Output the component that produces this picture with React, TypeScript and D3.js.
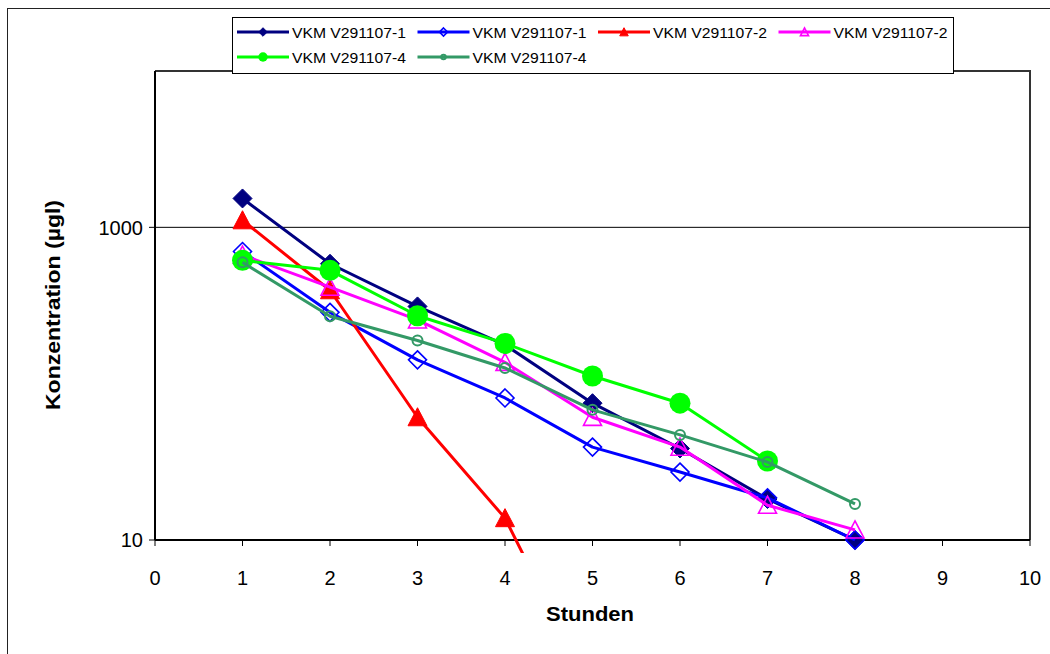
import React from "react";
import * as d3 from "d3";

const hours = [1, 2, 3, 4, 5, 6, 7, 8];
const seriesNames = [
  "VKM V291107-1",
  "VKM V291107-1",
  "VKM V291107-2",
  "VKM V291107-2",
  "VKM V291107-4",
  "VKM V291107-4",
];
const navyValues = [1530, 585, 312, 177, 75, 38.5, 18.3, 10];
const blueValues = [700, 286, 142, 81, 39.3, 27.2, 18.6, 10];
const redValues = [1110, 396, 61, 13.8, 1.05];
const magentaValues = [665, 414, 256, 137, 61, 39.3, 16.7, 11.6];
const greenValues = [615, 531, 272, 181, 112, 75, 32];
const seaGreenValues = [597, 270, 189, 126, 68, 47, 31.5, 17];
const xTicks = [0, 1, 2, 3, 4, 5, 6, 7, 8, 9, 10];
const yTicks = [10, 1000];

type MarkerKind = "diamondFill" | "diamondOpen" | "triFill" | "triOpen" | "circleFill" | "circleOpen";

const seriesDefs: { values: number[]; color: string; marker: MarkerKind }[] = [
  { values: navyValues, color: "#000080", marker: "diamondFill" },
  { values: blueValues, color: "#0000FF", marker: "diamondOpen" },
  { values: redValues, color: "#FF0000", marker: "triFill" },
  { values: magentaValues, color: "#FF00FF", marker: "triOpen" },
  { values: greenValues, color: "#00FF00", marker: "circleFill" },
  { values: seaGreenValues, color: "#339966", marker: "circleOpen" },
];

const W = 1050;
const H = 654;
const plot = { left: 155, right: 1030, top: 71, bottom: 540 };
const FONT = "'Liberation Sans', Arial, sans-serif";

function Marker({ kind, x, y, color, scale = 1 }: { kind: MarkerKind; x: number; y: number; color: string; scale?: number }) {
  const s = scale;
  switch (kind) {
    case "diamondFill": {
      const r = 9.5 * s;
      return <path d={`M${x},${y - r}L${x + r},${y}L${x},${y + r}L${x - r},${y}Z`} fill={color} stroke={color} strokeWidth={1} />;
    }
    case "diamondOpen": {
      const r = 9 * s;
      return <path d={`M${x},${y - r}L${x + r},${y}L${x},${y + r}L${x - r},${y}Z`} fill="none" stroke={color} strokeWidth={1.6} />;
    }
    case "triFill": {
      const w = 9.5 * s;
      return <path d={`M${x},${y - w}L${x + w},${y + w * 0.9}L${x - w},${y + w * 0.9}Z`} fill={color} stroke={color} strokeWidth={1} />;
    }
    case "triOpen": {
      const w = 9 * s;
      return <path d={`M${x},${y - w}L${x + w},${y + w * 0.9}L${x - w},${y + w * 0.9}Z`} fill="none" stroke={color} strokeWidth={1.6} />;
    }
    case "circleFill":
      return <circle cx={x} cy={y} r={10.5 * s} fill={color} />;
    case "circleOpen":
      return <circle cx={x} cy={y} r={5 * s} fill="none" stroke={color} strokeWidth={2} />;
  }
}

export default function App() {
  const xScale = d3.scaleLinear().domain([0, 10]).range([plot.left, plot.right]);
  const yScale = d3.scaleLog().domain([10, 10000]).range([plot.bottom, plot.top]);
  const line = d3
    .line<[number, number]>()
    .x((d) => xScale(d[0]))
    .y((d) => yScale(d[1]));

  const legendCols = [237, 417.5, 598, 778.5];
  const legendRows = [32, 57];

  return (
    <svg width={W} height={H} style={{ position: "absolute", left: 0, top: 0, background: "#fff" }} fontFamily={FONT}>
      <defs>
        <clipPath id="plotClip">
          <rect x={plot.left} y={plot.top} width={plot.right - plot.left} height={553 - plot.top} />
        </clipPath>
      </defs>
      <rect x={0} y={0} width={W} height={H} fill="#fff" />
      <rect x={7.5} y={8.5} width={1200} height={800} fill="none" stroke="#222" strokeWidth={1} />

      <path d={`M${plot.left},${plot.top}H${plot.right}V${plot.bottom}`} fill="none" stroke="#333" strokeWidth={2} />
      {yTicks
        .filter((t) => t > 10)
        .map((t) => (
          <line key={t} x1={plot.left} x2={plot.right} y1={yScale(t)} y2={yScale(t)} stroke="#000" strokeWidth={1} />
        ))}

      <line x1={plot.left} x2={plot.left} y1={plot.top} y2={plot.bottom} stroke="#000" strokeWidth={2} />
      <line x1={plot.left} x2={plot.right} y1={plot.bottom} y2={plot.bottom} stroke="#000" strokeWidth={2} />
      {yTicks.map((t) => (
        <g key={t}>
          <line x1={plot.left - 6} x2={plot.left} y1={yScale(t)} y2={yScale(t)} stroke="#000" strokeWidth={1} />
          <text x={143} y={yScale(t)} dy="0.36em" textAnchor="end" fontSize={20}>
            {t}
          </text>
        </g>
      ))}
      {xTicks.map((t) => (
        <g key={t}>
          <line x1={xScale(t)} x2={xScale(t)} y1={plot.bottom} y2={plot.bottom + 6} stroke="#000" strokeWidth={1} />
          <text x={xScale(t)} y={585} textAnchor="middle" fontSize={20}>
            {t}
          </text>
        </g>
      ))}

      <text x={590} y={621} textAnchor="middle" fontSize={20} fontWeight="bold" textLength={88} lengthAdjust="spacingAndGlyphs">
        Stunden
      </text>
      <text
        transform={`translate(60,305) rotate(-90)`}
        textAnchor="middle"
        fontSize={20}
        fontWeight="bold"
        textLength={210}
        lengthAdjust="spacingAndGlyphs"
      >
        Konzentration (µgl)
      </text>

      {seriesDefs.map((s, i) => {
        const pts: [number, number][] = s.values.map((v, j) => [hours[j], v]);
        return (
          <g key={i}>
            <path d={line(pts) || ""} fill="none" stroke={s.color} strokeWidth={3} clipPath="url(#plotClip)" strokeLinejoin="round" />
            {pts
              .filter((p) => p[1] >= 10)
              .map((p, j) => (
                <Marker key={j} kind={s.marker} x={xScale(p[0])} y={yScale(p[1])} color={s.color} />
              ))}
          </g>
        );
      })}

      <rect x={232.5} y={17.5} width={721} height={56} fill="#fff" stroke="#000" strokeWidth={1} />
      {seriesDefs.map((s, i) => {
        const col = i % 4;
        const row = Math.floor(i / 4);
        const x0 = legendCols[col];
        const y0 = legendRows[row];
        return (
          <g key={i}>
            <line x1={x0} x2={x0 + 52} y1={y0} y2={y0} stroke={s.color} strokeWidth={3} />
            <Marker kind={s.marker} x={x0 + 26} y={y0} color={s.color} scale={0.45} />
            <text x={x0 + 55} y={y0} dy="0.36em" fontSize={15.5} textLength={114} lengthAdjust="spacingAndGlyphs">
              {seriesNames[i]}
            </text>
          </g>
        );
      })}
    </svg>
  );
}
